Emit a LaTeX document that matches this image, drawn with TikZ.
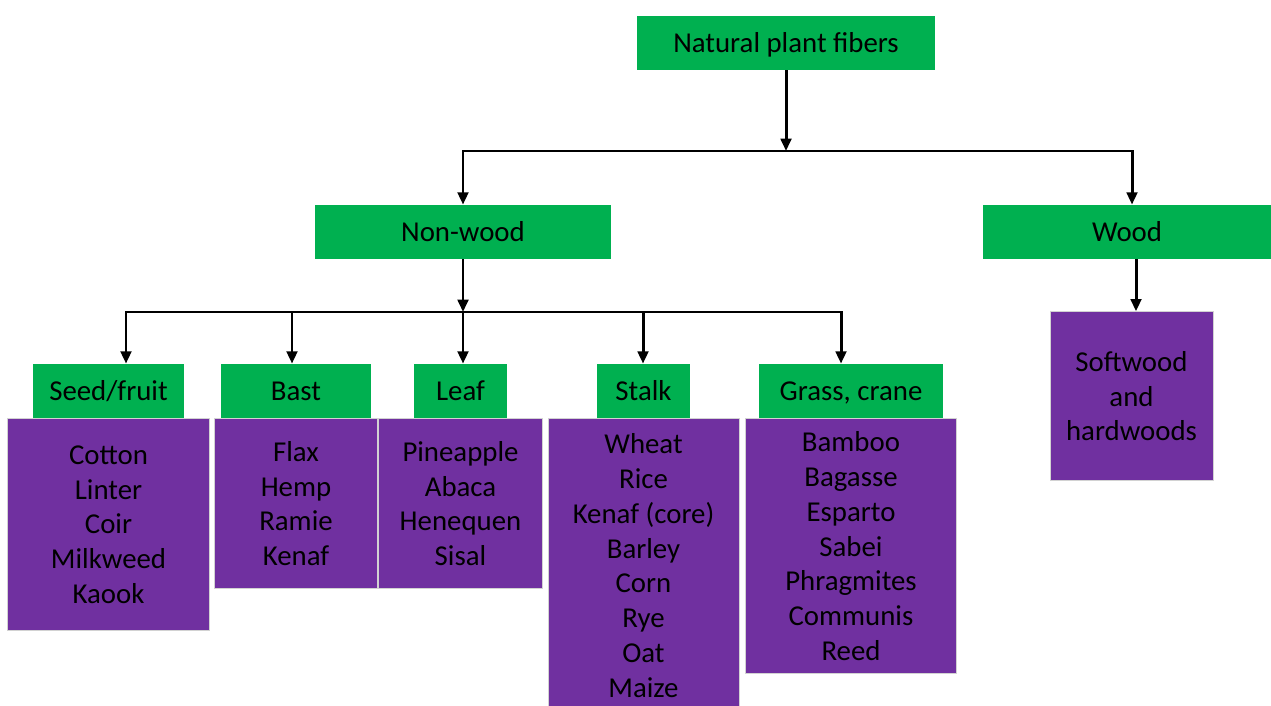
\documentclass[tikz,border=0pt]{standalone}
\usepackage{fontspec}
\setmainfont{Carlito}
\usetikzlibrary{positioning, arrows.meta}
\definecolor{catgreen}{RGB}{0,176,80}
\definecolor{listpurple}{RGB}{112,48,160}
\tikzset{
    >={Triangle[length=7pt, width=6pt]}, % Solid arrowheads
    link/.style={->, line width=1.7pt}, % Connectors
}

\begin{document}
\begin{tikzpicture}[
    x=0.02cm, y=-0.02cm,
    every node/.style={font=\fontsize{16.4}{19.8}\selectfont},
    cat/.style={fill=catgreen, minimum height=1.08cm, inner sep=0pt,
                text height=11pt, text depth=0pt},
    list/.style={fill=listpurple, draw=gray!35, line width=0.4pt,
                 align=center, inner sep=0pt, below=0pt of #1}
]
    \useasboundingbox (0,0) rectangle (1271,706);

    % --- Categories ---
    \node[cat, minimum width=5.96cm] (fibers)  at (786,43)    {Natural plant fibers};
    \node[cat, minimum width=5.94cm] (nonwood) at (463,232)   {Non-wood};
    \node[cat, minimum width=5.76cm] (wood)    at (1127,232)  {Wood};

    \node[cat, minimum width=3.02cm] (seed)  at (108.5,391) {Seed/fruit};
    \node[cat, minimum width=3.00cm] (bast)  at (296,391)   {Bast};
    \node[cat, minimum width=1.86cm] (leaf)  at (460.5,391) {Leaf};
    \node[cat, minimum width=1.86cm] (stalk) at (643.5,391) {Stalk};
    \node[cat, minimum width=3.68cm] (grass) at (851,391)   {Grass, crane};

    % --- Lists ---
    \node[list=seed,  minimum width=4.04cm, minimum height=4.24cm] (seedlist)
        {Cotton\\Linter\\Coir\\Milkweed\\Kaook};
    \node[list=bast,  minimum width=3.26cm, minimum height=3.40cm] (bastlist)
        {Flax\\Hemp\\Ramie\\Kenaf};
    \node[list=leaf,  minimum width=3.28cm, minimum height=3.40cm] (leaflist)
        {Pineapple\\Abaca\\Henequen\\Sisal};
    \node[list=stalk, minimum width=3.82cm, minimum height=5.88cm] (stalklist)
        {Wheat\\Rice\\Kenaf (core)\\Barley\\Corn\\Rye\\Oat\\Maize};
    \node[list=grass, minimum width=4.22cm, minimum height=5.10cm] (grasslist)
        {Bamboo\\Bagasse\\Esparto\\Sabei\\Phragmites\\Communis\\Reed};
    \node[list=wood,  below=1.04cm of wood, xshift=0.09cm,
          minimum width=3.26cm, minimum height=3.38cm] (woodlist)
        {Softwood\\and\\hardwoods};

    % --- Connectors ---
    \coordinate (split1) at (786,151);
    \coordinate (split2) at (463,312);

    \draw[link] (fibers) -- (split1);
    \draw[link] (split1) -| (nonwood.north);
    \draw[link] (split1) -| (1132,0 |- wood.north);

    \draw[link] (nonwood) -- (split2);
    \foreach \kid/\col in {seed/126, bast/292, leaf/463, stalk/643, grass/841}
        \draw[link] (split2) -| (\col,0 |- \kid.north);

    \draw[link] (1136,0 |- wood.south) -- (1136,0 |- woodlist.north);

\end{tikzpicture}
\end{document}
